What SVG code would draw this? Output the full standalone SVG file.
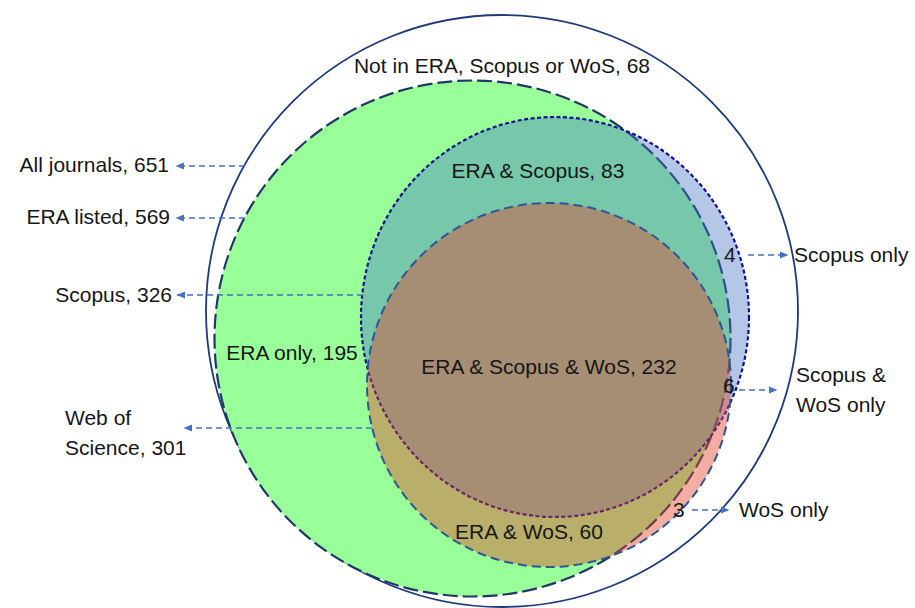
<svg xmlns="http://www.w3.org/2000/svg" width="915" height="608" viewBox="0 0 915 608">
  <defs>
    <marker id="arr" markerWidth="9" markerHeight="8" refX="8" refY="4" orient="auto" markerUnits="userSpaceOnUse">
      <path d="M0,0.5 L8.5,4 L0,7.5 z" fill="#4472c4"/>
    </marker>
    <style>
      text { font-family: "Liberation Sans", Arial, sans-serif; font-size: 21px; fill: #161616; }
      .outer { fill: #ffffff; stroke: #1f3a7a; stroke-width: 1.8; }
      .era { fill: #99ff99; stroke: #203864; stroke-width: 2.2; stroke-dasharray: 15 5; }
      .scopus { fill: #4472c4; fill-opacity: 0.4; stroke: #101090; stroke-width: 2.2; stroke-dasharray: 4 2.5; }
      .wos { fill: #e4432c; fill-opacity: 0.43; stroke: #2f5597; stroke-width: 2; stroke-dasharray: 9 5; }
      .conn { fill: none; stroke: #4472c4; stroke-width: 1.5; stroke-dasharray: 6 4; marker-end: url(#arr); }
    </style>
  </defs>
  <rect width="915" height="608" fill="#ffffff"/>

  <g id="all-journals">
    <circle class="outer" cx="502" cy="311" r="296"/>
    <text x="502" y="73" text-anchor="middle">Not in ERA, Scopus or WoS, 68</text>
  </g>

  <g id="era">
    <circle class="era" cx="472.5" cy="338.5" r="258"/>
    <text x="292" y="360" text-anchor="middle">ERA only, 195</text>
  </g>

  <g id="scopus">
    <ellipse class="scopus" cx="555" cy="317" rx="194" ry="200"/>
    <text x="538" y="178" text-anchor="middle">ERA &amp; Scopus, 83</text>
  </g>

  <g id="wos">
    <circle class="wos" cx="549" cy="385" r="182"/>
    <text x="549" y="374" text-anchor="middle">ERA &amp; Scopus &amp; WoS, 232</text>
    <text x="529" y="539" text-anchor="middle">ERA &amp; WoS, 60</text>
  </g>

  <g id="label-all-journals">
    <text x="169" y="172" text-anchor="end">All journals, 651</text>
  </g>
  <g id="label-era-listed">
    <text x="170" y="224" text-anchor="end">ERA listed, 569</text>
  </g>
  <g id="label-scopus">
    <text x="172" y="302" text-anchor="end">Scopus, 326</text>
  </g>
  <g id="label-wos">
    <text x="65" y="425">Web of</text>
    <text x="65" y="455">Science, 301</text>
  </g>
  <g id="label-scopus-only">
    <text x="724" y="262">4</text>
    <text x="794" y="262">Scopus only</text>
  </g>
  <g id="label-scopus-wos-only">
    <text x="723" y="393">6</text>
    <text x="796" y="382">Scopus &amp;</text>
    <text x="796" y="412">WoS only</text>
  </g>
  <g id="label-wos-only">
    <text x="673" y="517">3</text>
    <text x="739" y="517">WoS only</text>
  </g>

  <g id="connectors">
    <line class="conn" x1="245" y1="166" x2="176" y2="166"/>
    <line class="conn" x1="245" y1="218" x2="176" y2="218"/>
    <line class="conn" x1="363" y1="295" x2="177" y2="295"/>
    <line class="conn" x1="372" y1="428" x2="184" y2="428"/>
    <line class="conn" x1="748" y1="255" x2="788" y2="255"/>
    <line class="conn" x1="739" y1="390" x2="777" y2="390"/>
    <line class="conn" x1="692" y1="510" x2="729" y2="510"/>
  </g>
</svg>
